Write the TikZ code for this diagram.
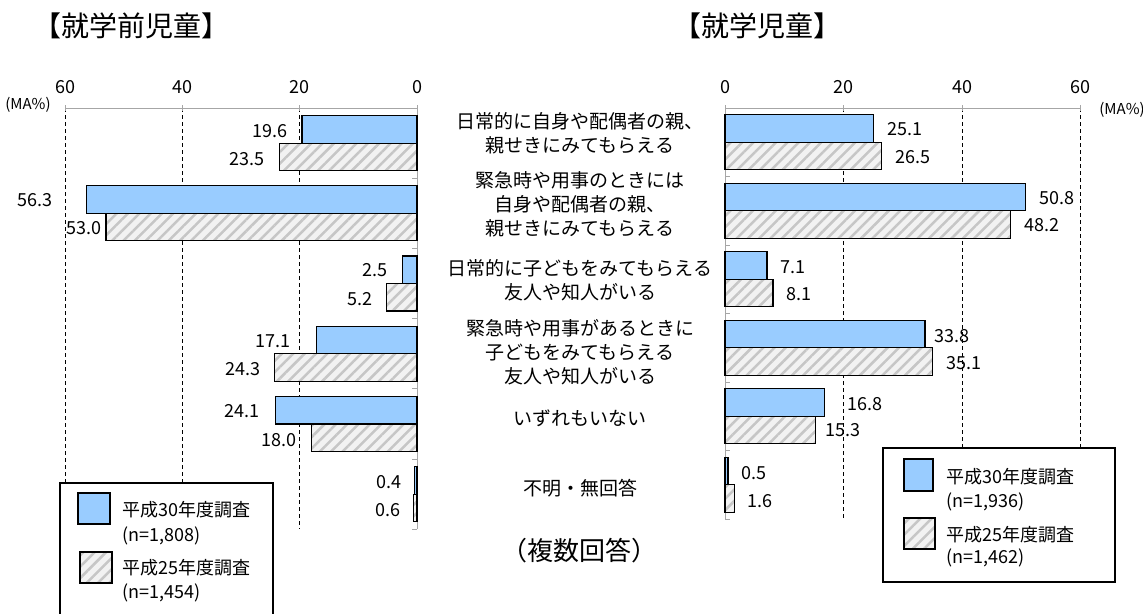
\documentclass[tikz,border=0pt]{standalone}
\usepackage{fontspec}
\setmainfont{Noto Sans CJK JP}
\usetikzlibrary{patterns.meta}
\definecolor{barblue}{HTML}{99CCFF}

\begin{document}
\begin{tikzpicture}[x=1pt,y=-1pt,
    now/.style={draw=black,line width=1.2pt,fill=barblue},
    before/.style={draw=black,line width=1.2pt,preaction={fill=gray!10},
      pattern={Lines[angle=45,distance=8pt,line width=2.5pt]},pattern color=gray!45},
    gridline/.style={line width=1pt,dash pattern=on 4pt off 3pt},
    axisline/.style={draw=gray!70,line width=1pt},
    val/.style={inner sep=0pt,font=\fontsize{18}{18}\selectfont},
    tick/.style={inner sep=0pt,font=\fontsize{18}{18}\selectfont},
    cat/.style={align=center,inner sep=0pt,font=\fontsize{19}{24}\selectfont},
    legtext/.style={anchor=west,inner sep=0pt,font=\fontsize{18}{18}\selectfont}]
  \useasboundingbox (0,0) rectangle (1143,613);

  % titles
  \node[font=\fontsize{28}{28}\selectfont] (titleL) at (131,26) {【就学前児童】};
  \node[font=\fontsize{28}{28}\selectfont] (titleR) at (757,26) {【就学児童】};

  % axes, left chart
  \coordinate (L0) at (417,108);
  \coordinate (L60) at (65,108);
  \draw[gridline] (65,108) -- (65,483);
  \draw[gridline] (182,108) -- (182,483);
  \draw[gridline] (299,108) -- (299,529);
  \draw[axisline] (L60) -- (L0) -- (417,529);
  \node[tick] (l60) at (65,87) {60};
  \node[tick] (l40) at (182,87) {40};
  \node[tick] (l20) at (299,87) {20};
  \node[tick] (l0) at (417,87) {0};
  \node[inner sep=0pt,font=\fontsize{15}{15}\selectfont] (maL) at (28,105) {(MA\%)};

  % axes, right chart
  \coordinate (R0) at (725,108);
  \coordinate (R60) at (1080,108);
  \draw[gridline] (843,108) -- (843,519);
  \draw[gridline] (962,108) -- (962,448);
  \draw[gridline] (1080,108) -- (1080,448);
  \draw[axisline] (R60) -- (R0) -- (725,519);
  \node[tick] (r0) at (725,87) {0};
  \node[tick] (r20) at (843,87) {20};
  \node[tick] (r40) at (962,87) {40};
  \node[tick] (r60) at (1080,87) {60};
  \node[inner sep=0pt,font=\fontsize{15}{15}\selectfont] (maR) at (1122,110) {(MA\%)};

  % small ticks
  \draw[axisline] (65,105) -- (65,111) (182,105) -- (182,111) (299,105) -- (299,111) (417,105) -- (417,111);
  \draw[axisline] (725,105) -- (725,111) (843,105) -- (843,111) (962,105) -- (962,111) (1080,105) -- (1080,111);
  \draw[axisline] (412,178.2) -- (417,178.2) (412,248.4) -- (417,248.4) (412,318.6) -- (417,318.6)
    (412,388.8) -- (417,388.8) (412,459) -- (417,459) (412,529.2) -- (417,529.2);
  \draw[axisline] (725,176.5) -- (730,176.5) (725,245) -- (730,245) (725,313.5) -- (730,313.5)
    (725,382) -- (730,382) (725,450.5) -- (730,450.5) (725,519) -- (730,519);

  % bars, left chart
  \begin{scope}[shift={(417,0)},x=-5.867pt]
    \draw[now] (0,115.6) rectangle (19.6,143.1);
    \draw[before] (0,143.1) rectangle (23.5,170.6);
    \draw[now] (0,185.8) rectangle (56.3,213.3);
    \draw[before] (0,213.3) rectangle (53.0,240.8);
    \draw[now] (0,256) rectangle (2.5,283.5);
    \draw[before] (0,283.5) rectangle (5.2,311);
    \draw[now] (0,326.2) rectangle (17.1,353.7);
    \draw[before] (0,353.7) rectangle (24.3,381.2);
    \draw[now] (0,396.4) rectangle (24.1,423.9);
    \draw[before] (0,423.9) rectangle (18.0,451.4);
    \draw[now] (0,466.6) rectangle (0.4,494.1);
    \draw[before] (0,494.1) rectangle (0.6,521.6);
  \end{scope}

  % bars, right chart
  \begin{scope}[shift={(725,0)},x=5.917pt]
    \draw[now] (0,114.8) rectangle (25.1,142.3);
    \draw[before] (0,142.3) rectangle (26.5,169.8);
    \draw[now] (0,183.3) rectangle (50.8,210.8);
    \draw[before] (0,210.8) rectangle (48.2,238.3);
    \draw[now] (0,251.8) rectangle (7.1,279.3);
    \draw[before] (0,279.3) rectangle (8.1,306.8);
    \draw[now] (0,320.3) rectangle (33.8,347.8);
    \draw[before] (0,347.8) rectangle (35.1,375.3);
    \draw[now] (0,388.8) rectangle (16.8,416.3);
    \draw[before] (0,416.3) rectangle (15.3,443.8);
    \draw[now] (0,457.3) rectangle (0.5,484.8);
    \draw[before] (0,484.8) rectangle (1.6,512.3);
  \end{scope}

  % values, left chart
  \node[val,anchor=east] (la1) at (288,131) {19.6};
  \node[val,anchor=east] (lb1) at (265,159) {23.5};
  \node[val,anchor=east] (la2) at (53,200) {56.3};
  \node[val,anchor=east] (lb2) at (102,228) {53.0};
  \node[val,anchor=east] (la3) at (388,270) {2.5};
  \node[val,anchor=east] (lb3) at (373,299) {5.2};
  \node[val,anchor=east] (la4) at (291,341) {17.1};
  \node[val,anchor=east] (lb4) at (261,369) {24.3};
  \node[val,anchor=east] (la5) at (260,411) {24.1};
  \node[val,anchor=east] (lb5) at (297,440) {18.0};
  \node[val,anchor=east] (la6) at (402,482) {0.4};
  \node[val,anchor=east] (lb6) at (401,510) {0.6};

  % values, right chart
  \node[val,anchor=west] (ra1) at (887,129) {25.1};
  \node[val,anchor=west] (rb1) at (895,157) {26.5};
  \node[val,anchor=west] (ra2) at (1039,198) {50.8};
  \node[val,anchor=west] (rb2) at (1024,225) {48.2};
  \node[val,anchor=west] (ra3) at (780,267) {7.1};
  \node[val,anchor=west] (rb3) at (786,294) {8.1};
  \node[val,anchor=west] (ra4) at (934,336) {33.8};
  \node[val,anchor=west] (rb4) at (946,363) {35.1};
  \node[val,anchor=west] (ra5) at (847,404) {16.8};
  \node[val,anchor=west] (rb5) at (825,430) {15.3};
  \node[val,anchor=west] (ra6) at (741,473) {0.5};
  \node[val,anchor=west] (rb6) at (747,501) {1.6};

  % categories
  \node[cat] (c1) at (580,133.5) {日常的に自身や配偶者の親、\\親せきにみてもらえる};
  \node[cat] (c2) at (580,204) {緊急時や用事のときには\\自身や配偶者の親、\\親せきにみてもらえる};
  \node[cat] (c3) at (580,280) {日常的に子どもをみてもらえる\\友人や知人がいる};
  \node[cat] (c4) at (580,352) {緊急時や用事があるときに\\子どもをみてもらえる\\友人や知人がいる};
  \node[cat] (c5) at (580,418) {いずれもいない};
  \node[cat] (c6) at (580,488) {不明・無回答};
  \node[font=\fontsize{26}{26}\selectfont] (multi) at (579,551) {（複数回答）};

  % legend, left
  \draw[line width=1.2pt] (60,614) -- (60,483) -- (273,483) -- (273,614);
  \draw[now] (78,493) rectangle (110,524);
  \draw[before] (80,552) rectangle (112,583);
  \node[legtext] (kL1) at (122,510) {平成30年度調査};
  \node[legtext] (nL1) at (122,536) {(n=1,808)};
  \node[legtext] (kL2) at (122,568) {平成25年度調査};
  \node[legtext] (nL2) at (122,593) {(n=1,454)};

  % legend, right
  \draw[line width=1.2pt] (883,448) rectangle (1115,582);
  \draw[now] (904,459) rectangle (933,491);
  \draw[before] (904,518) rectangle (935,549);
  \node[legtext] (kR1) at (946,477) {平成30年度調査};
  \node[legtext] (nR1) at (946,502) {(n=1,936)};
  \node[legtext] (kR2) at (946,535) {平成25年度調査};
  \node[legtext] (nR2) at (946,558) {(n=1,462)};
\end{tikzpicture}
\end{document}
